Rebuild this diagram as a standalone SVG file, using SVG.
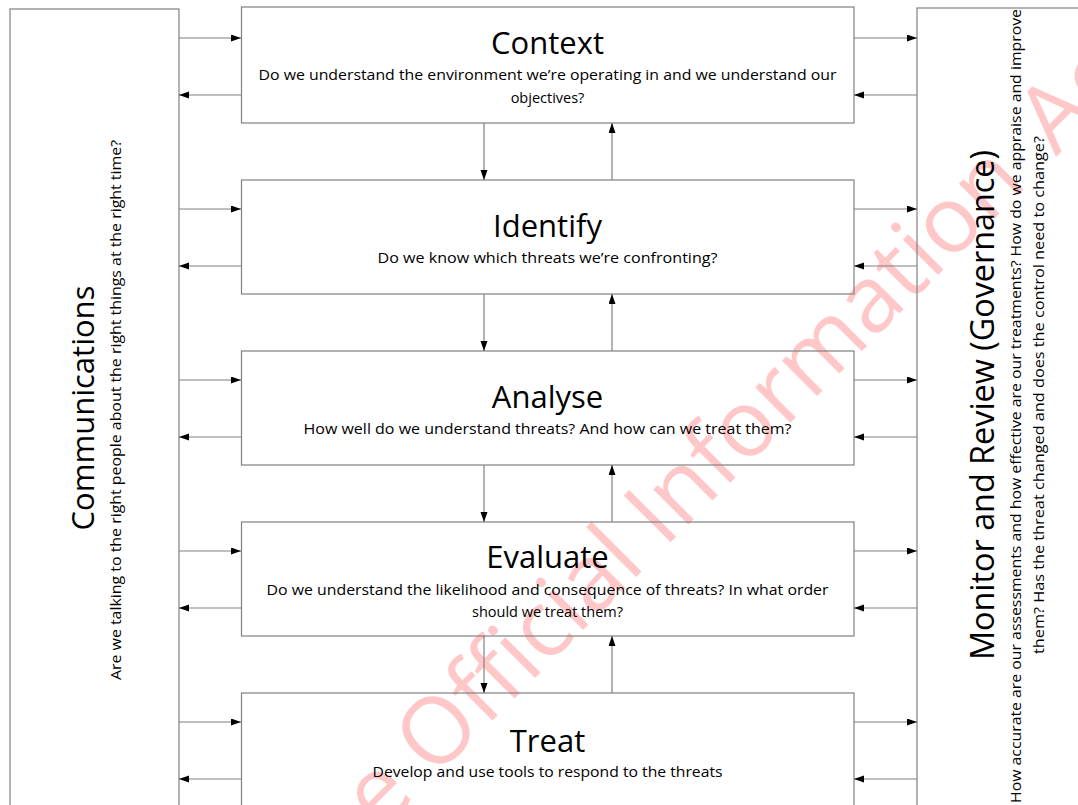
<svg xmlns="http://www.w3.org/2000/svg" width="1078" height="805" viewBox="0 0 1078 805">
<style>
.box{fill:none;stroke:#808080;stroke-width:1.2}
.conn{stroke:#808080;stroke-width:1.2;fill:none}
.t{font-family:"Open Sans","Liberation Sans",sans-serif;fill:#000;text-anchor:middle}
.title{font-size:31px}
.sub{font-size:14.5px}
.wm{font-family:"Open Sans","Liberation Sans",sans-serif;font-size:93px;fill:#ff0000;fill-opacity:0.22}
</style>
<defs>
<marker id="ah" markerUnits="userSpaceOnUse" markerWidth="11" markerHeight="8" refX="10" refY="3.5" orient="auto">
<path d="M0,0 L10,3.5 L0,7 z" fill="#000"/>
</marker>
</defs>
<rect width="1078" height="805" fill="#fff"/>
<text class="wm" transform="translate(380,833) rotate(-45)">e Official Information <tspan dx="14">Act</tspan></text>

<g id="communications">
<rect class="box" x="10" y="9" width="169" height="820"/>
<text class="t" transform="translate(94,408) rotate(-90)" font-size="31">Communications</text>
<text class="t" transform="translate(121,410) rotate(-90)" font-size="14" textLength="540" lengthAdjust="spacingAndGlyphs">Are we talking to the right people about the right things at the right time?</text>
</g>

<g id="monitor">
<rect class="box" x="917" y="8" width="180" height="820"/>
<text class="t" transform="translate(994,405) rotate(-90)" font-size="32" textLength="510" lengthAdjust="spacingAndGlyphs">Monitor and Review (Governance)</text>
<text class="t" transform="translate(1021,406) rotate(-90)" font-size="14.5" textLength="794" lengthAdjust="spacingAndGlyphs">How accurate are our assessments and how effective are our treatments? How do we appraise and improve</text>
<text class="t" transform="translate(1044,395) rotate(-90)" font-size="14.5" textLength="518" lengthAdjust="spacingAndGlyphs">them? Has the threat changed and does the control need to change?</text>
</g>

<g id="context">
<rect class="box" x="241.5" y="7" width="612.5" height="116"/>
<text class="t title" x="547.5" y="54">Context</text>
<text class="t sub" x="547.5" y="80" textLength="578" lengthAdjust="spacingAndGlyphs">Do we understand the environment we’re operating in and we understand our</text>
<text class="t sub" x="547.5" y="103">objectives?</text>
</g>

<g id="identify">
<rect class="box" x="241.5" y="180" width="612.5" height="114"/>
<text class="t title" x="547.5" y="237">Identify</text>
<text class="t sub" x="547.5" y="263" textLength="340" lengthAdjust="spacingAndGlyphs">Do we know which threats we’re confronting?</text>
</g>

<g id="analyse">
<rect class="box" x="241.5" y="351" width="612.5" height="114"/>
<text class="t title" x="547.5" y="408">Analyse</text>
<text class="t sub" x="547.5" y="434" textLength="488" lengthAdjust="spacingAndGlyphs">How well do we understand threats? And how can we treat them?</text>
</g>

<g id="evaluate">
<rect class="box" x="241.5" y="522" width="612.5" height="114"/>
<text class="t title" x="547.5" y="568">Evaluate</text>
<text class="t sub" x="547.5" y="595" textLength="562" lengthAdjust="spacingAndGlyphs">Do we understand the likelihood and consequence of threats? In what order</text>
<text class="t sub" x="547.5" y="617">should we treat them?</text>
</g>

<g id="treat">
<rect class="box" x="241.5" y="693" width="612.5" height="140"/>
<text class="t title" x="547.5" y="752">Treat</text>
<text class="t sub" x="547.5" y="777" textLength="350" lengthAdjust="spacingAndGlyphs">Develop and use tools to respond to the threats</text>
</g>

<g id="connectors">
<path class="conn" marker-end="url(#ah)" d="M179,38 H241"/>
<path class="conn" marker-end="url(#ah)" d="M241,95 H179"/>
<path class="conn" marker-end="url(#ah)" d="M179,209 H241"/>
<path class="conn" marker-end="url(#ah)" d="M241,266 H179"/>
<path class="conn" marker-end="url(#ah)" d="M179,380 H241"/>
<path class="conn" marker-end="url(#ah)" d="M241,437 H179"/>
<path class="conn" marker-end="url(#ah)" d="M179,551 H241"/>
<path class="conn" marker-end="url(#ah)" d="M241,608 H179"/>
<path class="conn" marker-end="url(#ah)" d="M179,722 H241"/>
<path class="conn" marker-end="url(#ah)" d="M241,779 H179"/>
<path class="conn" marker-end="url(#ah)" d="M854,38 H917"/>
<path class="conn" marker-end="url(#ah)" d="M917,95 H854"/>
<path class="conn" marker-end="url(#ah)" d="M854,209 H917"/>
<path class="conn" marker-end="url(#ah)" d="M917,266 H854"/>
<path class="conn" marker-end="url(#ah)" d="M854,380 H917"/>
<path class="conn" marker-end="url(#ah)" d="M917,437 H854"/>
<path class="conn" marker-end="url(#ah)" d="M854,551 H917"/>
<path class="conn" marker-end="url(#ah)" d="M917,608 H854"/>
<path class="conn" marker-end="url(#ah)" d="M854,722 H917"/>
<path class="conn" marker-end="url(#ah)" d="M917,779 H854"/>
<path class="conn" marker-end="url(#ah)" d="M484,123 V180"/>
<path class="conn" marker-end="url(#ah)" d="M612,180 V123"/>
<path class="conn" marker-end="url(#ah)" d="M484,294 V351"/>
<path class="conn" marker-end="url(#ah)" d="M612,351 V294"/>
<path class="conn" marker-end="url(#ah)" d="M484,465 V522"/>
<path class="conn" marker-end="url(#ah)" d="M612,522 V465"/>
<path class="conn" marker-end="url(#ah)" d="M484,636 V693"/>
<path class="conn" marker-end="url(#ah)" d="M612,693 V636"/>
</g>
</svg>
